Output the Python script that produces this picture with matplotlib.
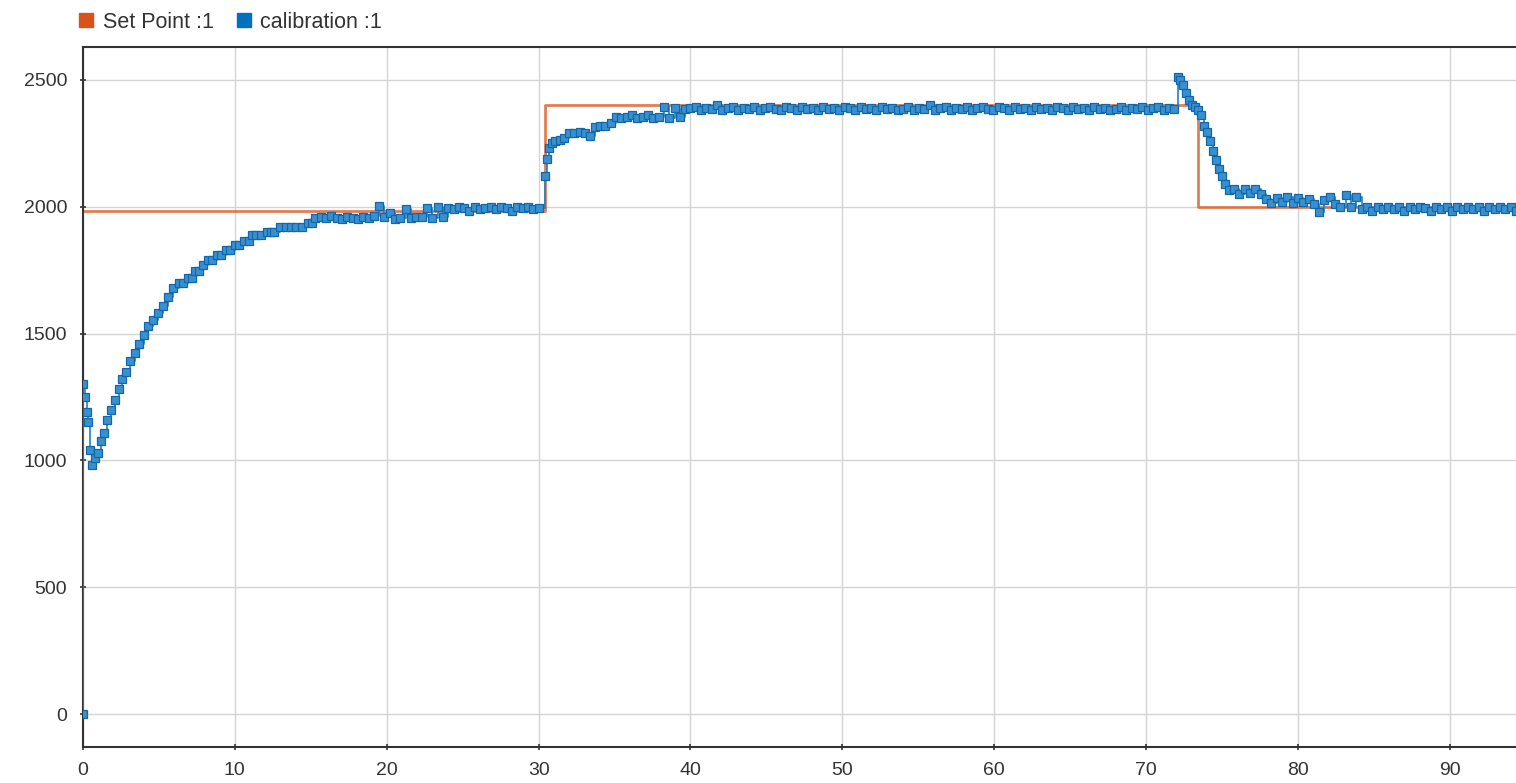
import numpy as np
import matplotlib
matplotlib.use("Agg")
import matplotlib.pyplot as plt
from matplotlib.lines import Line2D

plt.rcParams['font.family'] = ['Liberation Sans', 'DejaVu Sans']

# ---- Set point (step changes) ----
sp_t = [0.0, 30.45, 73.45, 95.0]
sp_v = [1985, 2400, 2000, 2000]

# ---- Calibration signal ----
# initial dip and rise (explicit sample times)
rise_t = [0.0, 0.02, 0.15, 0.25, 0.35, 0.45, 0.60, 0.80, 1.00, 1.20, 1.40, 1.60,
          1.85, 2.10, 2.35, 2.55, 2.85, 3.10, 3.40, 3.70, 4.00, 4.30, 4.60, 4.95,
          5.30, 5.60, 5.90, 6.30, 6.60, 6.90, 7.15, 7.40, 7.65, 7.90, 8.20, 8.50,
          8.80, 9.10, 9.40, 9.70, 10.0, 10.3, 10.6, 10.9, 11.15, 11.4, 11.75, 12.1,
          12.35, 12.6, 13.0, 13.35, 13.7, 14.05, 14.4, 14.8, 15.1]
rise_v = [0, 1300, 1250, 1190, 1150, 1040, 980, 1010, 1030, 1075, 1110, 1160,
          1200, 1240, 1280, 1320, 1350, 1390, 1425, 1460, 1495, 1530, 1555, 1580,
          1610, 1645, 1680, 1700, 1700, 1720, 1720, 1745, 1745, 1770, 1790, 1790,
          1810, 1810, 1830, 1830, 1850, 1850, 1865, 1865, 1890, 1890, 1890, 1900,
          1900, 1900, 1920, 1920, 1920, 1920, 1920, 1935, 1935]

# first hold, samples every 0.35 s from 15.3 s
hold1_start = 15.3
hold1_v = [1955, 1960, 1955, 1965, 1955, 1950, 1960, 1955, 1950, 1960,
           1955, 1965, 2005, 1960, 1975, 1950, 1955, 1990, 1955, 1960,
           1960, 1995, 1955, 2000, 1960, 1995, 1990, 2000, 1995, 1985,
           2000, 1990, 1995, 2000, 1990, 2000, 1995, 1985, 2000, 1995,
           2000, 1990, 1995]

# response to the first set point step
step1_t = [30.45, 30.55, 30.70, 30.85, 31.1, 31.4, 31.7, 32.0, 32.35, 32.7, 33.05,
           33.4, 33.7, 34.05, 34.4, 34.75, 35.1, 35.45, 35.8, 36.15, 36.5, 36.85,
           37.2, 37.55, 37.9, 38.25, 38.6, 38.95, 39.3, 39.65, 40.0]
step1_v = [2120, 2190, 2230, 2250, 2260, 2265, 2270, 2290, 2290, 2295, 2290,
           2280, 2315, 2320, 2320, 2330, 2355, 2350, 2355, 2360, 2350, 2355,
           2360, 2350, 2355, 2395, 2350, 2390, 2355, 2385, 2390]

# second hold, samples every 0.35 s from 40.35 s
hold2_start = 40.35
hold2_v = [2395, 2380, 2390, 2385, 2400, 2380, 2390, 2395, 2380, 2390,
           2385, 2395, 2380, 2390, 2395, 2385, 2380, 2395, 2390, 2380,
           2395, 2385, 2390, 2380, 2395, 2385, 2390, 2380, 2395, 2390,
           2380, 2395, 2385, 2390, 2380, 2395, 2385, 2390, 2380, 2385,
           2395, 2380, 2390, 2385, 2400, 2380, 2390, 2395, 2380, 2390,
           2385, 2395, 2380, 2390, 2395, 2385, 2380, 2395, 2390, 2380,
           2395, 2385, 2390, 2380, 2395, 2385, 2390, 2380, 2395, 2390,
           2380, 2395, 2385, 2390, 2380, 2395, 2385, 2390, 2380, 2385,
           2395, 2380, 2390, 2385, 2395, 2380, 2390, 2395, 2380, 2390,
           2385]

# overshoot and response to the second set point step
step2_t = [72.1, 72.25, 72.4, 72.6, 72.8, 73.0, 73.2, 73.4, 73.6, 73.8, 74.0, 74.2,
           74.4, 74.6, 74.8, 75.0, 75.2, 75.45, 75.8, 76.15, 76.5, 76.85, 77.2,
           77.55, 77.9, 78.25, 78.6, 78.95, 79.3, 79.65, 80.0, 80.35, 80.7, 81.05,
           81.4, 81.75, 82.1, 82.45, 82.8, 83.15, 83.5, 83.85]
step2_v = [2510, 2500, 2480, 2450, 2420, 2400, 2395, 2380, 2360, 2320, 2295, 2260,
           2220, 2185, 2150, 2120, 2090, 2065, 2070, 2050, 2070, 2055, 2070,
           2050, 2030, 2015, 2035, 2020, 2040, 2015, 2035, 2020, 2030, 2010,
           1980, 2025, 2040, 2010, 2000, 2045, 2000, 2040]

# final hold, samples every 0.35 s from 84.2 s
hold3_start = 84.2
hold3_v = [1990, 2000, 1985, 2000, 1990, 2000, 1990, 2000, 1985, 2000,
           1990, 2000, 1995, 1985, 2000, 1990, 2000, 1985, 2000, 1990,
           2000, 1990, 2000, 1985, 2000, 1990, 2000, 1990, 2000, 1985,
           2000]

sample_dt = 0.35

def hold_times(start, values):
    return list(start + sample_dt * np.arange(len(values)))

cal_t = (rise_t + hold_times(hold1_start, hold1_v) + step1_t +
         hold_times(hold2_start, hold2_v) + step2_t +
         hold_times(hold3_start, hold3_v))
cal_v = rise_v + hold1_v + step1_v + hold2_v + step2_v + hold3_v

x_ticks = [0, 10, 20, 30, 40, 50, 60, 70, 80, 90]
y_ticks = [0, 500, 1000, 1500, 2000, 2500]

W, H = 1516, 783
fig = plt.figure(figsize=(W / 100, H / 100), dpi=100)
ax = fig.add_axes([83 / W, 1 - 747 / H, (W - 83) / W, (747 - 47) / H])

orange = '#D95319'
blue = '#0072BD'

ax.plot(sp_t, sp_v, drawstyle='steps-post', color=orange, lw=2.0, alpha=0.75,
        zorder=2)
ax.plot(cal_t, cal_v, drawstyle='steps-post', color='#1f7fc4', lw=1.2,
        marker='s', markersize=5.3, markerfacecolor='#3a8fcf',
        markeredgecolor='#1068ab', markeredgewidth=0.9, zorder=3)

ax.set_xlim(0, 94.36)
ax.set_ylim(-130, 2630)
ax.set_xticks(x_ticks)
ax.set_yticks(y_ticks)
ax.grid(True, color='#d4d4d4', lw=1.0)
ax.set_axisbelow(True)

for s in ['left', 'bottom', 'top']:
    ax.spines[s].set_color('#333333')
    ax.spines[s].set_linewidth(1.5)
ax.spines['right'].set_visible(False)

ax.tick_params(axis='both', direction='inout', length=5, width=1.2,
               color='#333333', labelcolor='#333333', labelsize=14)
ax.tick_params(axis='x', pad=8)
ax.tick_params(axis='y', pad=9)

handles = [Line2D([], [], ls='none', marker='s', markersize=10,
                  markerfacecolor=orange, markeredgecolor=orange),
           Line2D([], [], ls='none', marker='s', markersize=10,
                  markerfacecolor=blue, markeredgecolor=blue)]
fig.legend(handles, ['Set Point :1', 'calibration :1'], loc='center left',
           bbox_to_anchor=(80 / W, 1 - 22 / H), ncol=2, frameon=False,
           fontsize=15.5, handlelength=0.6, handletextpad=0.45,
           columnspacing=1.1, borderaxespad=0, borderpad=0,
           labelcolor='#333333')

fig.savefig('out.png', dpi=100)
